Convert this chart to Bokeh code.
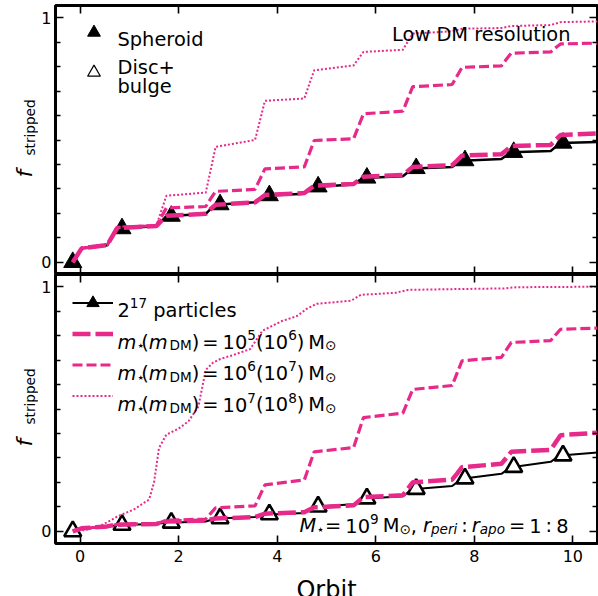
from math import pi

import numpy as np
from bokeh.core.properties import value
from bokeh.embed import file_html
from bokeh.layouts import column, row
from bokeh.models import FixedTicker, Label, Legend, LegendItem, LinearAxis, Range1d
from bokeh.plotting import figure
from bokeh.resources import INLINE

PINK = "#e7298a"
FONT = "DejaVu Sans"
F = 19.4          # main text size (px)
S = 0.7 * F       # script size (px)
TICK_F = 16       # tick label size (px)
PAGE_H = 596
STRIP_W = 38      # width of the strip that holds the y titles
PANEL_W = 598 - STRIP_W

# ---------------- data ----------------
orbit_ticks = [0, 2, 4, 6, 8, 10]
frac_ticks = [0, 1]
frac_minor = [0.1, 0.2, 0.3, 0.4, 0.5, 0.6, 0.7, 0.8, 0.9]

# sample orbits of the stripped-fraction curves
orbit = [-0.15, 0.03, 0.55, 0.65, 0.75, 1.55, 1.65, 1.75, 2.55, 2.65, 2.75,
         3.55, 3.65, 3.75, 4.55, 4.65, 4.75, 5.55, 5.65, 5.75, 6.55, 6.65,
         6.75, 7.55, 7.65, 7.75, 8.55, 8.65, 8.75, 9.55, 9.65, 9.75, 10.5]

# Spheroid, low DM resolution
sph_2e17 = [0, 0.057, 0.07, 0.105, 0.138, 0.147, 0.168, 0.188, 0.198, 0.218, 0.235,
            0.245, 0.26, 0.272, 0.28, 0.295, 0.308, 0.318, 0.333, 0.345, 0.352, 0.368,
            0.383, 0.39, 0.403, 0.415, 0.422, 0.437, 0.45, 0.455, 0.472, 0.488, 0.492]
sph_m5 = [0, 0.057, 0.07, 0.105, 0.14, 0.148, 0.17, 0.19, 0.198, 0.218, 0.235,
          0.245, 0.26, 0.275, 0.283, 0.298, 0.313, 0.32, 0.335, 0.35, 0.357, 0.373,
          0.39, 0.397, 0.416, 0.436, 0.442, 0.458, 0.475, 0.48, 0.5, 0.52, 0.527]
sph_m6 = [0, 0.057, 0.07, 0.106, 0.142, 0.15, 0.186, 0.222, 0.228, 0.26, 0.29,
          0.298, 0.34, 0.382, 0.39, 0.444, 0.498, 0.505, 0.556, 0.607, 0.618, 0.668,
          0.718, 0.727, 0.762, 0.797, 0.803, 0.83, 0.855, 0.86, 0.877, 0.893, 0.896]
sph_m7 = [0, 0.06, 0.075, 0.11, 0.145, 0.152, 0.212, 0.272, 0.285, 0.378, 0.472,
          0.5, 0.58, 0.66, 0.67, 0.728, 0.785, 0.805, 0.833, 0.86, 0.869, 0.902,
          0.935, 0.945, 0.95, 0.955, 0.958, 0.962, 0.966, 0.97, 0.976, 0.982, 0.985]

# Disc+bulge
disc_2e17 = [0, 0.01, 0.018, 0.022, 0.026, 0.03, 0.033, 0.035, 0.04, 0.046, 0.052,
             0.058, 0.063, 0.068, 0.075, 0.088, 0.1, 0.11, 0.122, 0.133, 0.143, 0.158,
             0.172, 0.185, 0.2, 0.215, 0.235, 0.249, 0.262, 0.284, 0.298, 0.31, 0.322]
disc_m5 = [0, 0.012, 0.02, 0.024, 0.027, 0.03, 0.035, 0.04, 0.043, 0.048, 0.052,
           0.058, 0.065, 0.072, 0.078, 0.088, 0.098, 0.106, 0.123, 0.14, 0.147, 0.174,
           0.2, 0.211, 0.236, 0.262, 0.276, 0.3, 0.325, 0.333, 0.363, 0.393, 0.403]
disc_m6 = [0, 0.012, 0.02, 0.024, 0.028, 0.032, 0.038, 0.045, 0.05, 0.073, 0.096,
           0.104, 0.147, 0.19, 0.21, 0.268, 0.325, 0.342, 0.404, 0.465, 0.483, 0.532,
           0.58, 0.596, 0.647, 0.697, 0.711, 0.742, 0.772, 0.78, 0.803, 0.826, 0.831]
disc_m7_orbit = [-0.12, 0.1, 0.4, 0.75, 1.1, 1.4, 1.5, 1.6, 1.75, 2.0, 2.2, 2.4, 2.55,
                 2.7, 2.85, 3.1, 3.45, 3.6, 3.7, 3.9, 4.1, 4.4, 4.6, 4.8, 5.5, 5.7,
                 6.4, 6.65, 7.5, 8.6, 8.85, 10.5]
disc_m7 = [0, 0.005, 0.02, 0.06, 0.09, 0.13, 0.2, 0.34, 0.395, 0.42, 0.45, 0.51, 0.66,
           0.69, 0.705, 0.72, 0.745, 0.79, 0.82, 0.84, 0.86, 0.88, 0.91, 0.93, 0.943,
           0.967, 0.975, 0.987, 0.99, 0.993, 0.998, 1.0]

# values at each orbit marker
marker_orbit = [-0.15, 0.85, 1.85, 2.84, 3.84, 4.83, 5.82, 6.82, 7.81, 8.80, 9.80]
sph_marker = [0, 0.138, 0.189, 0.236, 0.273, 0.309, 0.345, 0.384, 0.416, 0.45, 0.488]
disc_marker = [0, 0.026, 0.035, 0.053, 0.069, 0.101, 0.134, 0.173, 0.216, 0.263, 0.31]

# ---------------- text helpers ----------------
ADV = {' ': 0.318, '(': 0.390, ')': 0.390, '+': 0.838, ',': 0.318, ':': 0.337,
       '=': 0.838, 'D': 0.770, 'M': 0.863, 'a': 0.613, 'd': 0.635, 'e': 0.615,
       'i': 0.278, 'm': 0.974, 'o': 0.612, 'p': 0.635, 'r': 0.411, 's': 0.521,
       't': 0.392, 'c': 0.550, 'l': 0.278, 'f': 0.352, '⋆': 0.35, '⊙': 0.838}
for _d in "0123456789":
    ADV[_d] = 0.636
RISE = {"": 0.0, "sup": 0.36 * F, "sub": -0.17 * F}


def adv(text, size):
    return sum(ADV.get(c, 0.6) for c in text) * size


def label(p, text, sx, sy, top, size=F, italic=False, align="left"):
    """Place text with its baseline at page pixel (sx, sy); top = frame top."""
    p.add_layout(Label(x=-0.5, y=1.05, x_offset=sx - 55, y_offset=-(sy - top),
                       text=text, text_font=FONT, text_font_size=f"{size:.1f}px",
                       text_font_style="italic" if italic else "normal",
                       text_color="black", text_align=align,
                       text_baseline="alphabetic"))


def rich(p, runs, sx, base, top, align="left"):
    """Runs of (text, italic, kind, gap) laid out along a horizontal baseline."""
    total = sum(g + adv(t, S if k else F) for t, _, k, g in runs)
    pos = sx - total if align == "right" else sx
    for t, it, k, g in runs:
        pos += g
        size = S if k else F
        label(p, t, pos, base - RISE[k], top, size, it)
        pos += adv(t, size)


def strip(width, height, x0, y0):
    """Blank area whose data coordinates follow the page pixels."""
    p = figure(width=width, height=height, x_range=Range1d(x0, x0 + width),
               y_range=Range1d(PAGE_H - y0 - height, PAGE_H - y0),
               output_backend="svg", toolbar_location=None,
               x_axis_location=None, y_axis_location=None, min_border=0)
    p.outline_line_color = None
    p.grid.visible = False
    p.background_fill_color = "white"
    p.border_fill_color = "white"
    return p


def page_text(p, text, x, y, size, italic=False, align="left", angle=0.0, place=None):
    """Text whose baseline starts at page pixel (x, y), measured from the
    strip's lower-left corner so that side placement does not move it."""
    x0, y_low = p.x_range.start, p.y_range.start
    lab = Label(x=x0, y=y_low, x_offset=x - x0, y_offset=(PAGE_H - y) - y_low,
                text=text, text_font=FONT, text_font_size=f"{size:.1f}px",
                text_font_style="italic" if italic else "normal",
                text_color="black", text_align=align,
                text_baseline="alphabetic", angle=angle)
    if place is None:
        p.add_layout(lab)
    else:
        p.add_layout(lab, place)


# ---------------- panels ----------------
def panel(height, top, bottom, labelled_x):
    p = figure(width=PANEL_W, height=height, x_range=Range1d(-0.5, 10.5),
               y_range=Range1d(-0.05, 1.05), output_backend="svg",
               toolbar_location=None, x_axis_location=None, y_axis_location=None,
               min_border_left=55 - STRIP_W, min_border_right=1,
               min_border_top=top, min_border_bottom=bottom)
    p.grid.visible = False
    p.outline_line_color = "black"
    p.outline_line_width = 3
    p.background_fill_color = "white"
    p.border_fill_color = "white"
    for loc in ("left", "right", "above", "below"):
        if loc in ("left", "right"):
            ax = LinearAxis(ticker=FixedTicker(ticks=frac_ticks, minor_ticks=frac_minor))
            show = loc == "left"
        else:
            ax = LinearAxis(ticker=FixedTicker(ticks=orbit_ticks))
            show = loc == "below" and labelled_x
        ax.axis_line_color = None
        ax.major_tick_in = 8
        ax.major_tick_out = 0
        ax.minor_tick_in = 5
        ax.minor_tick_out = 0
        ax.major_tick_line_width = 1.6
        ax.minor_tick_line_width = 1.3
        ax.major_tick_line_color = "black"
        ax.minor_tick_line_color = "black"
        ax.major_label_text_font = FONT
        ax.major_label_text_color = "black"
        if show:
            ax.major_label_text_font_size = f"{TICK_F}px"
            ax.major_label_standoff = 6 if loc == "below" else 4
        else:
            ax.major_label_text_font_size = "1px"
            ax.major_label_standoff = 0
            ax.major_label_overrides = {t: "" for t in ax.ticker.ticks}
        p.add_layout(ax, loc)
    return p


top_p = panel(274, 5, 0, False)
bot_p = panel(295, 0, 26, True)
ylab = strip(STRIP_W, 596, 0, 0)
xlab = strip(PANEL_W, 27, STRIP_W, 569)
# the title strip shares the orbit range so its frame lines up with the panels
xlab.x_range = Range1d(-0.5, 10.5)

# --- spheroid panel ---
r_sph = top_p.line(orbit, sph_2e17, line_color="black", line_width=2.5)
m_sph = top_p.scatter(marker_orbit, sph_marker, marker="triangle", size=18,
                      fill_color="black", line_color="black", line_width=1)
top_p.line(orbit, sph_m5, line_color=PINK, line_width=4.5, line_dash="18 5")
top_p.line(orbit, sph_m6, line_color=PINK, line_width=3.2, line_dash="10 4")
top_p.line(orbit, sph_m7, line_color=PINK, line_width=2, line_dash="2 2")
disc_key = top_p.scatter([np.nan], [np.nan], marker="triangle", fill_color="white",
                         line_color="black", line_width=1.2)

top_leg = Legend(items=[LegendItem(label=value(" "), renderers=[m_sph]),
                        LegendItem(label=value(" "), renderers=[disc_key])],
                 location=(17.5, 186), glyph_width=41, glyph_height=32, spacing=8,
                 padding=0, margin=0, label_standoff=0, label_width=0,
                 label_text_font_size="1px", border_line_alpha=0,
                 background_fill_alpha=0)
top_p.add_layout(top_leg)

label(top_p, "Spheroid", 117, 38.5, 5)
label(top_p, "Disc+", 117, 66.7, 5)
label(top_p, "bulge", 117, 85.5, 5)
label(top_p, "Low DM resolution", 570, 34.3, 5, align="right")

# --- disc+bulge panel ---
r_disc = bot_p.line(orbit, disc_2e17, line_color="black", line_width=2)
bot_p.scatter(marker_orbit, disc_marker, marker="triangle", size=17,
              fill_color="white", line_color="black", line_width=2.6)
r5 = bot_p.line(orbit, disc_m5, line_color=PINK, line_width=4.5, line_dash="18 5")
r6 = bot_p.line(orbit, disc_m6, line_color=PINK, line_width=3.2, line_dash="10 4")
r7 = bot_p.line(disc_m7_orbit, disc_m7, line_color=PINK, line_width=2, line_dash="2 2")
fid_key = bot_p.scatter([np.nan], [np.nan], marker="triangle", fill_color="black",
                        line_color="black")

bot_leg = Legend(items=[LegendItem(label=value(" "), renderers=[r_disc, fid_key]),
                        LegendItem(label=value(" "), renderers=[r5]),
                        LegendItem(label=value(" "), renderers=[r6]),
                        LegendItem(label=value(" "), renderers=[r7])],
                 location=(17, 132), glyph_width=41, glyph_height=31, spacing=0,
                 padding=0, margin=0, label_standoff=0, label_width=0,
                 label_text_font_size="1px", border_line_alpha=0,
                 background_fill_alpha=0)
bot_p.add_layout(bot_leg)

rich(bot_p, [("2", False, "", 0), ("17", False, "sup", 0),
             ("particles", False, "", 0.318 * F)], 117, 309.7, 274)
for base, lo, hi in [(341.5, "5", "6"), (372.8, "6", "7"), (404, "7", "8")]:
    rich(bot_p, [("m", True, "", 0), ("⋆", False, "sub", 0), ("(", False, "", 0),
                 ("m", True, "", 0), ("DM", False, "sub", 2), (")", False, "", 0),
                 ("=", False, "", 3), ("10", False, "", 4), (lo, False, "sup", 0),
                 ("(10", False, "", 0), (hi, False, "sup", 0), (")", False, "", 0),
                 ("M", False, "", 4), ("⊙", False, "sub", 0)], 117, base, 274)

rich(bot_p, [("M", True, "", 0), ("⋆", False, "sub", 0), ("=", False, "", 4),
             ("10", False, "", 4), ("9", False, "sup", 0), ("M", False, "", 4),
             ("⊙", False, "sub", 0), (",", False, "", 0), ("r", True, "", 6),
             ("peri", True, "sub", 0), (":", False, "", 4), ("r", True, "", 4),
             ("apo", True, "sub", 0), ("=", False, "", 4), ("1", False, "", 4),
             (":", False, "", 4), ("8", False, "", 4)], 568, 525, 274, align="right")

# axis titles: the rotated y titles sit in a side panel of the strip, so the
# frame clip does not apply to them
for mid in (177, 446):
    page_text(ylab, "f", 24, mid, 22, italic=True, angle=pi / 2, place="above")
    page_text(ylab, "stripped", 29, mid - 22, S, angle=pi / 2, place="above")

# x title centred on the orbit axis, baseline 7 px above the page bottom
xlab.add_layout(Label(x=5.0, y=xlab.y_range.start, y_offset=7, text="Orbit",
                      text_font=FONT, text_font_size="24px", text_color="black",
                      text_align="center", text_baseline="alphabetic"))

page = row(ylab, column(top_p, bot_p, xlab, spacing=0), spacing=0)
with open("out.html", "w") as fh:
    fh.write(file_html(page, INLINE))
